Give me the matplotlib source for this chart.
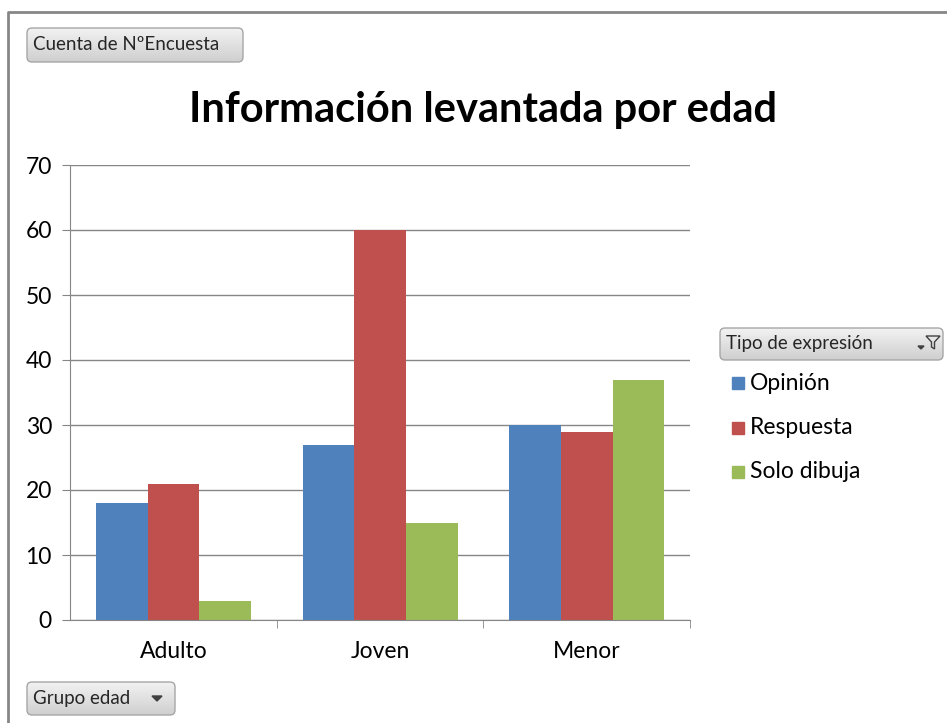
import matplotlib.pyplot as plt
import numpy as np
from matplotlib.colors import LinearSegmentedColormap
from matplotlib.patches import FancyBboxPatch, Rectangle, Polygon

grupos = ["Adulto", "Joven", "Menor"]
series = ["Opinión", "Respuesta", "Solo dibuja"]
opinion = [18, 27, 30]
respuesta = [21, 60, 29]
solo_dibuja = [3, 15, 37]
colores = ["#4F81BD", "#C0504D", "#9BBB59"]

plt.rcParams["font.family"] = ["Lato", "DejaVu Sans"]

W, H = 947, 723
fig = plt.figure(figsize=(W / 100, H / 100), dpi=100)

ax = fig.add_axes([70 / W, 1 - 620 / H, 620 / W, 455 / H])
x = np.arange(len(grupos))
w = 0.25
for i, (vals, nombre) in enumerate(zip([opinion, respuesta, solo_dibuja], series)):
    ax.bar(x + (i - 1) * w, vals, width=w, color=colores[i], label=nombre, zorder=2)

ax.set_xlim(-0.5, 2.5)
ax.set_ylim(0, 70)
ax.set_yticks(range(0, 71, 10))
ax.yaxis.grid(True, color="#868686", lw=1, zorder=0)
for s in ["top", "right"]:
    ax.spines[s].set_visible(False)
for s in ["left", "bottom"]:
    ax.spines[s].set_color("#868686")
ax.set_xticks(x)
ax.set_xticklabels(grupos, fontsize=16.5)
ax.set_xticks([0.5, 1.5, 2.5], minor=True)
ax.tick_params(axis="x", which="major", length=0, pad=15)
ax.tick_params(axis="x", which="minor", length=6, color="#868686")
ax.tick_params(axis="y", length=6, color="#868686", labelsize=16.5, pad=7)

# overlay in pixel coordinates for the frame, title, buttons and legend
ov = fig.add_axes([0, 0, 1, 1], facecolor="none")
ov.set_xlim(0, W)
ov.set_ylim(H, 0)
ov.axis("off")

ov.plot([8, 8, W], [H, 12, 12], color="#868686", lw=2)

ov.text(483, 110, "Información levantada por edad", fontsize=30,
        fontweight="bold", ha="center", va="center")

cmap_boton = LinearSegmentedColormap.from_list("g", ["#F2F2F2", "#CFCFCF"])


def boton(x0, y0, x1, y1, texto):
    caja = FancyBboxPatch((x0, y0), x1 - x0, y1 - y0,
                          boxstyle="round,pad=0,rounding_size=5",
                          facecolor="none", edgecolor="#A6A6A6", lw=1, zorder=3)
    ov.add_patch(caja)
    grad = np.linspace(0, 1, 64).reshape(-1, 1)
    im = ov.imshow(grad, cmap=cmap_boton, extent=[x0, x1, y1, y0],
                   aspect="auto", zorder=2)
    im.set_clip_path(caja)
    ov.text(x0 + 6, (y0 + y1) / 2, texto, fontsize=13.5,
            ha="left", va="center", color="#262626", zorder=4)


boton(27, 28, 243, 62, "Cuenta de NºEncuesta")
boton(720, 328, 943, 360, "Tipo de expresión")
boton(27, 682, 175, 715, "Grupo edad")
ov.set_xlim(0, W)
ov.set_ylim(H, 0)

# filtro y flechas de los botones
ov.add_patch(Polygon([(926, 336), (940, 336), (934.5, 342), (934.5, 349),
                      (931.5, 347), (931.5, 342)], closed=True,
                     facecolor="none", edgecolor="#404040", lw=1, zorder=5))
ov.add_patch(Polygon([(918, 346), (924, 346), (921, 349)], closed=True,
                     color="#404040", zorder=5))
ov.add_patch(Polygon([(152, 696), (162, 696), (157, 701)], closed=True,
                     color="#404040", zorder=5))

# legend
for i, nombre in enumerate(series):
    yc = 383 + i * 44.5
    ov.add_patch(Rectangle((732, yc - 6), 12, 12, color=colores[i]))
    ov.text(750, yc, nombre, fontsize=16.5, ha="left", va="center")

fig.savefig("out.png", dpi=100)
